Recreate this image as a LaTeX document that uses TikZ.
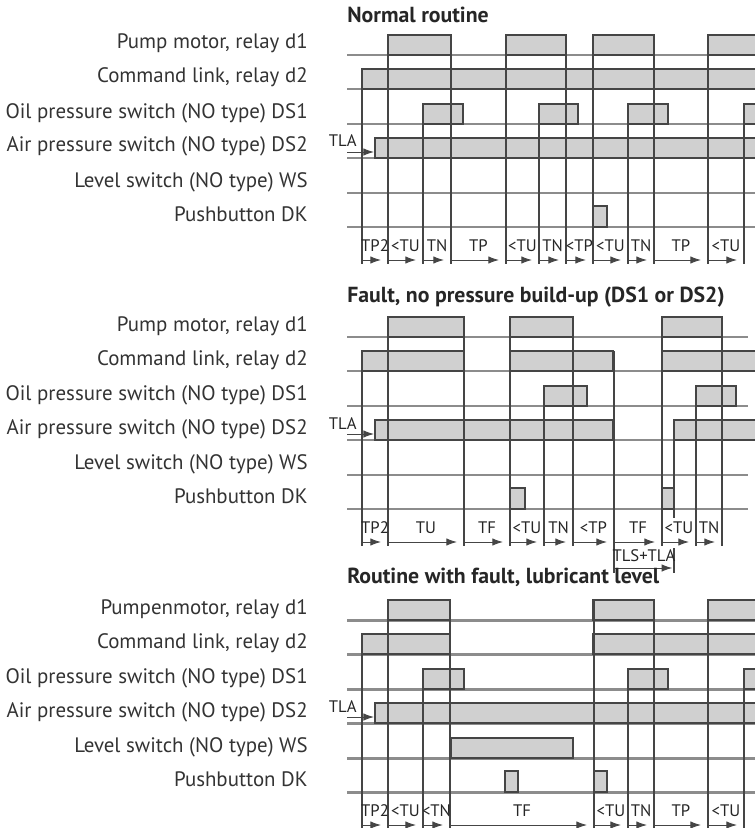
\documentclass[tikz,border=0pt]{standalone}
\usepackage{fontspec}
\setmainfont{PT Sans}
\usepackage{tikz}
\usetikzlibrary{arrows.meta}
\definecolor{sigdark}{HTML}{454545}
\definecolor{sigfill}{HTML}{D0D0D0}
\definecolor{rowgray}{HTML}{8C8C8C}

\begin{document}
\begin{tikzpicture}[
  x=0.02cm, y=-0.02cm,
  rowname/.style={anchor=base east, inner sep=0pt, font=\fontsize{11.9}{14}\selectfont, text=black!80},
  paneltitle/.style={anchor=base west, inner sep=0pt, font=\fontsize{12.4}{14}\selectfont\bfseries, text=black!85},
  tlbl/.style={anchor=base, inner sep=0pt, font=\fontsize{9.5}{11}\selectfont, text=black!85},
  rowln/.style={draw=rowgray, line width=1.7pt},
  sig/.style={draw=sigdark, fill=sigfill, line width=0.75pt},
  edgeln/.style={draw=sigdark, line width=0.75pt},
  tarr/.style={draw=sigdark, line width=0.5pt, -{Latex[length=6pt,width=4.2pt]}, shorten >=4pt}
]
\useasboundingbox (0,0) rectangle (754,828);

% Normal routine
\begin{scope}
\node[paneltitle] (t1) at (347,23) {Normal routine};
\node[rowname] (n1a) at (308,49) {Pump motor, relay d1};
\node[rowname] (n1b) at (308,83) {Command link, relay d2};
\node[rowname] (n1c) at (308,118) {Oil pressure switch (NO type) DS1};
\node[rowname] (n1d) at (308,152) {Air pressure switch (NO type) DS2};
\node[rowname] (n1e) at (308,187) {Level switch (NO type) WS};
\node[rowname] (n1f) at (308,221) {Pushbutton DK};
\foreach \y in {55,89,124,158,193,227} \draw[rowln] (347,\y) -- (760,\y);
\path[sig] (388,55) rectangle (451,35) (506,55) rectangle (566,35) (593,55) rectangle (654,35) (708,55) rectangle (760,35);
\path[sig] (362,89) rectangle (760,69);
\path[sig] (423,124) rectangle (463,104) (539,124) rectangle (578,104) (628,124) rectangle (668,104) (744,124) rectangle (760,104);
\path[sig] (375,158) rectangle (760,138);
\path[sig] (593,227) rectangle (607,206);
\foreach \x/\t in {362/69,388/35,423/104,451/35,506/35,539/104,566/35,593/35,628/104,654/35,708/35,744/104}
  \draw[edgeln] (\x,\t) -- (\x,264);
\node[tlbl, anchor=base east] (tla1) at (357,147) {TLA};
\draw[tarr, shorten >=0pt] (347,152) -- (374,152);
\foreach \a/\b/\s in {362/388/TP2,388/423/<TU,423/451/TN,451/506/TP,506/539/<TU,539/566/TN,566/593/<TP,593/628/<TU,628/654/TN,654/708/TP,708/744/<TU}{
  \node[tlbl] (p1-\a) at ({(\a+\b)/2},251) {\s};
  \draw[tarr] (\a,260) -- (\b,260);
}
\end{scope}

% Fault, no pressure build-up
\begin{scope}[shift={(0,282)}]
\node[paneltitle] (t2) at (347,20) {Fault, no pressure build-up (DS1 or DS2)};
\node[rowname] (n2a) at (308,49) {Pump motor, relay d1};
\node[rowname] (n2b) at (308,83) {Command link, relay d2};
\node[rowname] (n2c) at (308,118) {Oil pressure switch (NO type) DS1};
\node[rowname] (n2d) at (308,152) {Air pressure switch (NO type) DS2};
\node[rowname] (n2e) at (308,187) {Level switch (NO type) WS};
\node[rowname] (n2f) at (308,221) {Pushbutton DK};
\foreach \y in {55,89,124,158,193,227} \draw[rowln] (347,\y) -- (748,\y);
\path[sig] (388,55) rectangle (464,35) (510,55) rectangle (573,35) (662,55) rectangle (722,35);
\path[sig] (362,89) rectangle (464,69) (510,89) rectangle (613,69) (662,89) rectangle (760,69);
\path[sig] (544,124) rectangle (587,104) (696,124) rectangle (736,104);
\path[sig] (375,158) rectangle (613,138) (674,158) rectangle (760,138);
\path[sig] (510,227) rectangle (525,206) (662,227) rectangle (674,206);
\foreach \x/\t in {362/69,388/35,464/35,510/35,544/104,573/35,662/35,696/104,722/35}
  \draw[edgeln] (\x,\t) -- (\x,264);
\draw[edgeln] (614,69) -- (614,291);
\draw[edgeln] (674,138) -- (674,236) (674,266) -- (674,291);
\node[tlbl, anchor=base east] (tla2) at (357,147) {TLA};
\draw[tarr, shorten >=0pt] (347,152) -- (374,152);
\foreach \a/\b/\s in {362/388/TP2,388/464/TU,464/510/TF,510/544/<TU,544/573/TN,573/614/<TP,614/662/TF,662/696/<TU,696/722/TN}{
  \node[tlbl] (p2-\a) at ({(\a+\b)/2},251) {\s};
  \draw[tarr] (\a,260) -- (\b,260);
}
\node[tlbl] (tls) at (644,279) {TLS+TLA};
\draw[tarr, shorten >=1pt] (614,286) -- (674,286);
\end{scope}

% Routine with fault, lubricant level
\begin{scope}[shift={(0,565)}]
\node[paneltitle] (t3) at (347,18) {Routine with fault, lubricant level};
\node[rowname] (n3a) at (308,49) {Pumpenmotor, relay d1};
\node[rowname] (n3b) at (308,83) {Command link, relay d2};
\node[rowname] (n3c) at (308,118) {Oil pressure switch (NO type) DS1};
\node[rowname] (n3d) at (308,152) {Air pressure switch (NO type) DS2};
\node[rowname] (n3e) at (308,187) {Level switch (NO type) WS};
\node[rowname] (n3f) at (308,221) {Pushbutton DK};
\foreach \y in {55,89,124,158,193,227} \draw[rowln] (347,\y) -- (760,\y);
\path[sig] (388,55) rectangle (450,35) (593,55) rectangle (654,35) (708,55) rectangle (760,35);
\path[sig] (362,89) rectangle (450,69) (593,89) rectangle (760,69);
\path[sig] (423,124) rectangle (464,104) (628,124) rectangle (668,104) (744,124) rectangle (760,104);
\path[sig] (375,158) rectangle (760,138);
\path[sig] (451,193) rectangle (573,173);
\path[sig] (505,227) rectangle (518,206) (594,227) rectangle (607,206);
\foreach \x/\t in {362/69,388/35,423/104,450/35,594/35,628/104,654/35,708/35,744/104}
  \draw[edgeln] (\x,\t) -- (\x,266);
\node[tlbl, anchor=base east] (tla3) at (357,147) {TLA};
\draw[tarr, shorten >=0pt] (347,152) -- (374,152);
\foreach \a/\b/\s in {362/388/TP2,388/423/<TU,423/450/<TN,450/594/TF,594/628/<TU,628/654/TN,654/708/TP,708/744/<TU}{
  \node[tlbl] (p3-\a) at ({(\a+\b)/2},251) {\s};
  \draw[tarr] (\a,260) -- (\b,260);
}
\end{scope}
\end{tikzpicture}
\end{document}
